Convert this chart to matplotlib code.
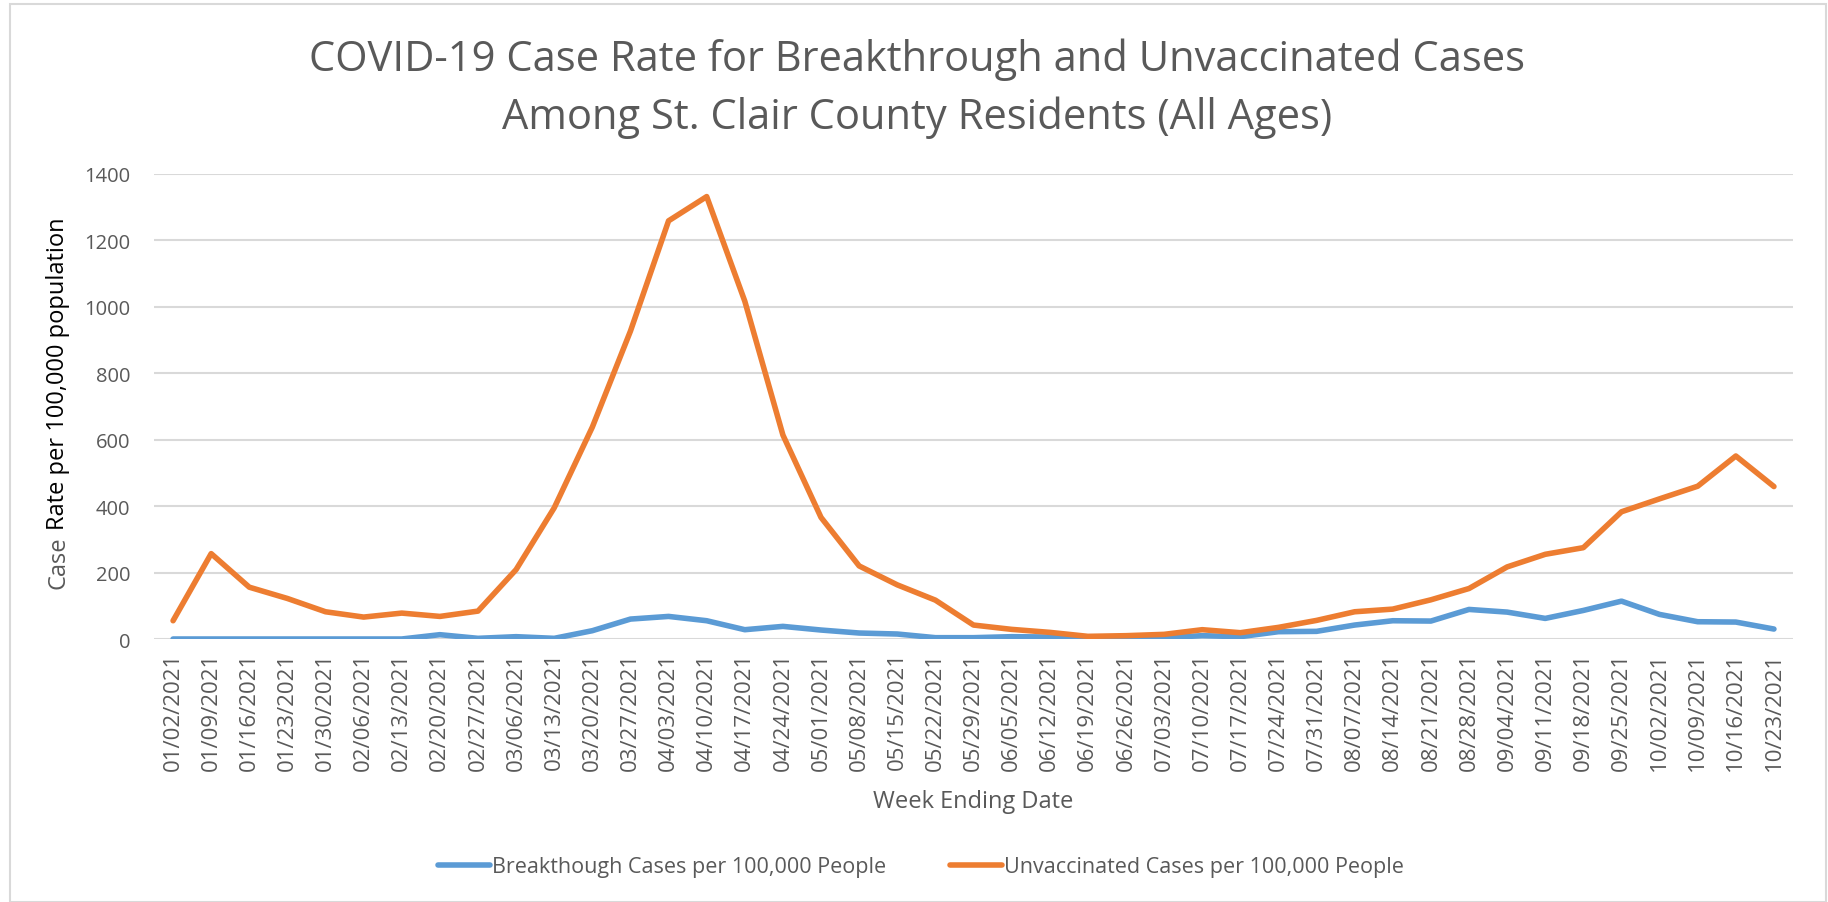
import matplotlib
matplotlib.use('Agg')
import matplotlib.pyplot as plt
from matplotlib.patches import Rectangle

# week ending dates
weeks = ['01/02/2021', '01/09/2021', '01/16/2021', '01/23/2021', '01/30/2021',
         '02/06/2021', '02/13/2021', '02/20/2021', '02/27/2021', '03/06/2021',
         '03/13/2021', '03/20/2021', '03/27/2021', '04/03/2021', '04/10/2021',
         '04/17/2021', '04/24/2021', '05/01/2021', '05/08/2021', '05/15/2021',
         '05/22/2021', '05/29/2021', '06/05/2021', '06/12/2021', '06/19/2021',
         '06/26/2021', '07/03/2021', '07/10/2021', '07/17/2021', '07/24/2021',
         '07/31/2021', '08/07/2021', '08/14/2021', '08/21/2021', '08/28/2021',
         '09/04/2021', '09/11/2021', '09/18/2021', '09/25/2021', '10/02/2021',
         '10/09/2021', '10/16/2021', '10/23/2021']

breakthrough = [0, 0, 0, 0, 0, 0, 0, 13, 2, 7,
                2, 25, 60, 68, 55, 28, 38, 27, 18, 15,
                4, 4, 7, 6, 2, 2, 4, 10, 7, 22,
                23, 42, 55, 54, 89, 81, 62, 86, 114, 74,
                52, 51, 30]

unvaccinated = [55, 257, 156, 122, 82, 66, 78, 68, 84, 209,
                395, 638, 927, 1259, 1332, 1017, 614, 366, 220, 163,
                117, 42, 29, 20, 8, 10, 14, 28, 19, 35,
                56, 82, 90, 118, 152, 217, 255, 275, 383, 422,
                460, 551, 459]

y_ticks = [0, 200, 400, 600, 800, 1000, 1200, 1400]

BLUE = '#5B9BD5'
ORANGE = '#ED7D31'
TXT = '#595959'
GRID = '#D9D9D9'

plt.rcParams['font.family'] = ['Open Sans', 'DejaVu Sans']

W, H = 1828, 903
fig = plt.figure(figsize=(W / 100, H / 100), dpi=100)

# light outer border like the spreadsheet chart area
fig.patches.append(Rectangle((10 / W, 0), (1826 - 10) / W, (H - 5) / H,
                             transform=fig.transFigure, fill=False,
                             edgecolor=GRID, linewidth=1.5))

left, right, top, bottom = 154, 1793, 175, 640
ax = fig.add_axes([left / W, 1 - bottom / H, (right - left) / W, (bottom - top) / H])

x = list(range(len(weeks)))
ax.plot(x, breakthrough, color=BLUE, linewidth=4, solid_capstyle='round',
        solid_joinstyle='round', label='Breakthough Cases per 100,000 People', zorder=3)
ax.plot(x, unvaccinated, color=ORANGE, linewidth=4, solid_capstyle='round',
        solid_joinstyle='round', label='Unvaccinated Cases per 100,000 People', zorder=3)

ax.set_xlim(-0.5, len(weeks) - 0.5)
ax.set_ylim(0, 1400)
ax.set_yticks(y_ticks)
ax.set_xticks(x)
ax.set_xticklabels(weeks, rotation=90)
ax.tick_params(axis='both', length=0, colors=TXT)
ax.tick_params(axis='y', pad=17, labelsize=14.5)
ax.tick_params(axis='x', pad=9, labelsize=16)
ax.grid(axis='y', color=GRID, linewidth=1.5)
ax.set_axisbelow(True)
for s in ax.spines.values():
    s.set_visible(False)

ax.set_xlabel('Week Ending Date', fontsize=17, color=TXT, labelpad=14)

fig.text(917 / W, 1 - 60 / H, 'COVID-19 Case Rate for Breakthrough and Unvaccinated Cases',
         ha='center', va='center', fontsize=30, color=TXT)
fig.text(917 / W, 1 - 118 / H, 'Among St. Clair County Residents (All Ages)',
         ha='center', va='center', fontsize=30, color=TXT)

# y label: "Case" in gray, rest in black
t1 = fig.text(58 / W, 1 - 589 / H, 'Case', rotation=90, ha='center', va='bottom',
              fontsize=17, color=TXT)
renderer = fig.canvas.get_renderer()
bb = t1.get_window_extent(renderer)
fig.text(58 / W, (bb.y1 + 6) / H, 'Rate per 100,000 population', rotation=90,
         ha='center', va='bottom', fontsize=17, color='black')

fig.legend(loc='center', bbox_to_anchor=(921 / W, 1 - 868 / H), ncol=2, frameon=False,
           fontsize=15.5, handlelength=2.4, handletextpad=0.1, columnspacing=3.0,
           labelcolor=TXT)

fig.savefig('out.png', dpi=100)
